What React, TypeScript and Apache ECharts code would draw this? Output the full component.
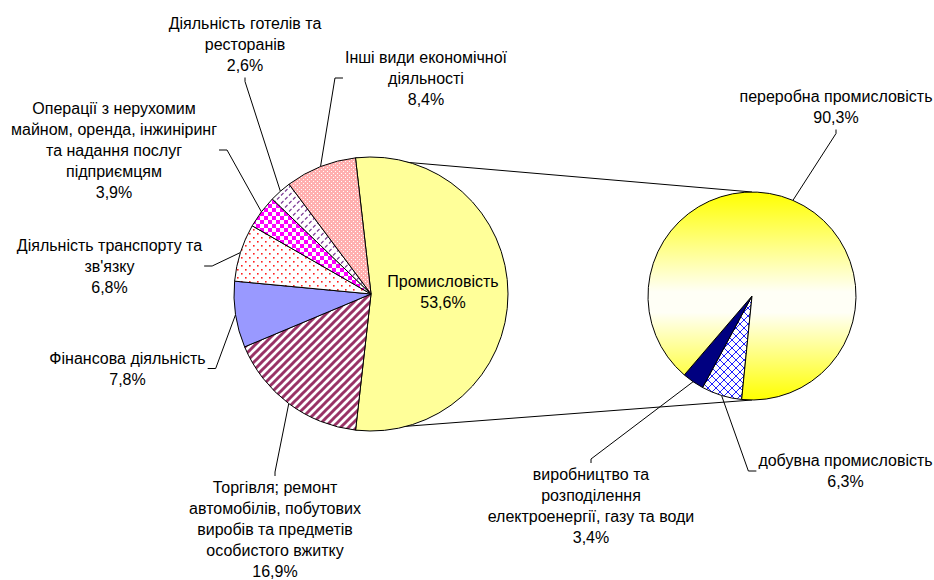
import React, { useEffect, useRef } from "react";
import * as echarts from "echarts";

// ---------- data ----------
const leftNames = [
  "Промисловість",
  "Торгівля; ремонт\nавтомобілів, побутових\nвиробів та предметів\nособистого вжитку",
  "Фінансова діяльність",
  "Діяльність транспорту та\nзв'язку",
  "Операції з нерухомим\nмайном, оренда, інжиніринг\nта надання послуг\nпідприємцям",
  "Діяльність готелів та\nресторанів",
  "Інші види економічної\nдіяльності",
];
const leftValues = [53.6, 16.9, 7.8, 6.8, 3.9, 2.6, 8.4];

const rightNames = [
  "добувна промисловість",
  "виробництво та\nрозподілення\nелектроенергії, газу та води",
  "переробна промисловість",
];
const rightValues = [6.3, 3.4, 90.3];

// ---------- layout / style ----------
const LEFT_CENTER = [371, 294];
const LEFT_R = 137;
const LEFT_START = 96.5;
const RIGHT_CENTER = [752, 296];
const RIGHT_R = 104;
const RIGHT_START = 264.3;

const FONT_SIZE = 16;
const LINE_H = 21;
const FONT_FAMILY = '"Liberation Sans", Arial, sans-serif';

// label block centre and the side the leader line attaches to
const leftLabelPos: [number, number, string][] = [
  [443, 292, "none"],
  [275, 529.5, "top"],
  [127.5, 368.5, "right"],
  [109.5, 266, "right"],
  [114, 150, "right"],
  [245, 44, "bottom"],
  [426, 78, "left"],
];
const rightLabelPos: [number, number, string][] = [
  [845.5, 471, "left"],
  [591, 506, "top"],
  [836, 106.5, "bottom"],
];

function fmtPct(v: number) {
  return v.toFixed(1).replace(".", ",") + "%";
}

function tile(w: number, h: number, draw: (ctx: CanvasRenderingContext2D) => void) {
  const c = document.createElement("canvas");
  c.width = w;
  c.height = h;
  const ctx = c.getContext("2d") as CanvasRenderingContext2D;
  draw(ctx);
  return { image: c, repeat: "repeat", imageWidth: w, imageHeight: h } as any;
}

function makePatterns() {
  const stripes = tile(8, 8, (ctx) => {
    ctx.fillStyle = "#fff";
    ctx.fillRect(0, 0, 8, 8);
    ctx.strokeStyle = "#993366";
    ctx.lineWidth = 3;
    for (const c of [0, 8, 16]) {
      ctx.beginPath();
      ctx.moveTo(c + 2, -2);
      ctx.lineTo(-2, c + 2);
      ctx.stroke();
    }
  });
  const redDots = tile(8, 8, (ctx) => {
    ctx.fillStyle = "#fff";
    ctx.fillRect(0, 0, 8, 8);
    ctx.fillStyle = "#FF2020";
    ctx.fillRect(1, 1, 1.6, 1.6);
    ctx.fillRect(5, 5, 1.6, 1.6);
  });
  const checker = tile(8, 8, (ctx) => {
    ctx.fillStyle = "#fff";
    ctx.fillRect(0, 0, 8, 8);
    ctx.fillStyle = "#FF00FF";
    ctx.fillRect(0, 0, 4, 4);
    ctx.fillRect(4, 4, 4, 4);
  });
  const dashes = tile(8, 8, (ctx) => {
    ctx.fillStyle = "#fff";
    ctx.fillRect(0, 0, 8, 8);
    ctx.strokeStyle = "#7F3F98";
    ctx.lineWidth = 1.2;
    ctx.beginPath();
    ctx.moveTo(1, 3.5);
    ctx.lineTo(3.5, 1);
    ctx.moveTo(5, 7.5);
    ctx.lineTo(7.5, 5);
    ctx.stroke();
  });
  const pink = tile(4, 4, (ctx) => {
    ctx.fillStyle = "#FFAFAF";
    ctx.fillRect(0, 0, 4, 4);
    ctx.fillStyle = "#fff";
    ctx.fillRect(1, 1, 1, 1);
    ctx.fillRect(3, 3, 1, 1);
  });
  const lattice = tile(8, 8, (ctx) => {
    ctx.fillStyle = "#fff";
    ctx.fillRect(0, 0, 8, 8);
    ctx.strokeStyle = "#2020FF";
    ctx.lineWidth = 1;
    ctx.beginPath();
    ctx.moveTo(0, 0);
    ctx.lineTo(8, 8);
    ctx.moveTo(8, 0);
    ctx.lineTo(0, 8);
    ctx.stroke();
  });
  return { stripes, redDots, checker, dashes, pink, lattice };
}

let measureCtx: CanvasRenderingContext2D | null = null;
function textWidth(s: string) {
  if (!measureCtx) {
    measureCtx = document.createElement("canvas").getContext("2d");
  }
  const ctx = measureCtx as CanvasRenderingContext2D;
  ctx.font = `${FONT_SIZE}px ${FONT_FAMILY}`;
  return ctx.measureText(s).width;
}

function makeLayout(names: string[], values: number[], pos: [number, number, string][], center: number[], r: number, start: number) {
  const total = values.reduce((a, b) => a + b, 0);
  return (params: any) => {
    const i = params.dataIndex;
    const [cx, cy, side] = pos[i];
    const lines = (names[i] + "\n" + fmtPct(values[i])).split("\n");
    const w = Math.max(...lines.map(textWidth));
    const h = lines.length * LINE_H;
    const left = cx - w / 2;
    const right = cx + w / 2;
    const top = cy - h / 2;
    const bottom = cy + h / 2;
    let anchor: number[];
    if (params.labelLinePoints && params.labelLinePoints[0]) {
      anchor = params.labelLinePoints[0];
    } else {
      let acc = 0;
      for (let k = 0; k < i; k++) acc += values[k];
      const mid = ((start - ((acc + values[i] / 2) / total) * 360) * Math.PI) / 180;
      anchor = [center[0] + r * Math.cos(mid), center[1] - r * Math.sin(mid)];
    }
    let p1: number[] = [cx, cy];
    let p2: number[] = [cx, cy];
    if (side === "left") {
      p2 = [left - 2, cy];
      p1 = [left - 10, cy];
    } else if (side === "right") {
      p2 = [right + 2, cy];
      p1 = [right + 10, cy];
    } else if (side === "top") {
      p2 = [cx, top - 1];
      p1 = [cx, top - 5];
    } else if (side === "bottom") {
      p2 = [cx, bottom + 2];
      p1 = [cx, bottom + 6];
    }
    const out: any = { x: cx, y: cy, align: "center", verticalAlign: "middle" };
    if (side !== "none") out.labelLinePoints = [anchor, p1, p2];
    return out;
  };
}

export default function App() {
  const ref = useRef<HTMLDivElement>(null);
  useEffect(() => {
    if (!ref.current) return;
    const chart = echarts.init(ref.current, undefined, { renderer: "svg" });
    const P = makePatterns();

    const leftColors: any[] = ["#FFFF99", P.stripes, "#9999FF", P.redDots, P.checker, P.dashes, P.pink];
    const rightColors: any[] = [
      P.lattice,
      "#000080",
      {
        type: "linear",
        x: 0,
        y: 0,
        x2: 0,
        y2: 1,
        colorStops: [
          { offset: 0, color: "#FFFF00" },
          { offset: 0.48, color: "#FFFFF6" },
          { offset: 0.58, color: "#FFFFF6" },
          { offset: 1, color: "#FFFF00" },
        ],
      },
    ];

    const labelBase = {
      show: true,
      color: "#000",
      fontSize: FONT_SIZE,
      lineHeight: LINE_H,
      fontFamily: FONT_FAMILY,
      overflow: "none",
      formatter: (p: any) => p.name + "\n" + fmtPct(p.value),
    };
    const lineBase = {
      show: true,
      length: 10,
      length2: 10,
      lineStyle: { color: "#000", width: 1 },
    };

    const leftEndDeg = LEFT_START - (leftValues[0] / leftValues.reduce((a, b) => a + b, 0)) * 360;
    const pt = (c: number[], r: number, deg: number) => [
      c[0] + r * Math.cos((deg * Math.PI) / 180),
      c[1] - r * Math.sin((deg * Math.PI) / 180),
    ];
    const topA = pt(LEFT_CENTER, LEFT_R, LEFT_START);
    const botA = pt(LEFT_CENTER, LEFT_R, leftEndDeg);
    const topB = pt(RIGHT_CENTER, RIGHT_R, 90);
    const botB = pt(RIGHT_CENTER, RIGHT_R, -90);

    chart.setOption({
      animation: false,
      backgroundColor: "#fff",
      graphic: [
        {
          type: "line",
          z: 0,
          shape: { x1: topA[0], y1: topA[1], x2: topB[0], y2: topB[1] },
          style: { stroke: "#000", lineWidth: 1 },
        },
        {
          type: "line",
          z: 0,
          shape: { x1: botA[0], y1: botA[1], x2: botB[0], y2: botB[1] },
          style: { stroke: "#000", lineWidth: 1 },
        },
      ],
      series: [
        {
          type: "pie",
          z: 2,
          center: LEFT_CENTER,
          radius: LEFT_R,
          startAngle: LEFT_START,
          clockwise: true,
          avoidLabelOverlap: false,
          silent: true,
          label: labelBase,
          labelLine: lineBase,
          itemStyle: { borderColor: "#000", borderWidth: 1 },
          labelLayout: makeLayout(leftNames, leftValues, leftLabelPos, LEFT_CENTER, LEFT_R, LEFT_START),
          data: leftNames.map((n, i) => ({
            name: n,
            value: leftValues[i],
            itemStyle: { color: leftColors[i] },
            labelLine: i === 0 ? { show: false } : undefined,
          })),
        },
        {
          type: "pie",
          z: 2,
          center: RIGHT_CENTER,
          radius: RIGHT_R,
          startAngle: RIGHT_START,
          clockwise: true,
          avoidLabelOverlap: false,
          silent: true,
          label: labelBase,
          labelLine: lineBase,
          itemStyle: { borderColor: "#000", borderWidth: 1 },
          labelLayout: makeLayout(rightNames, rightValues, rightLabelPos, RIGHT_CENTER, RIGHT_R, RIGHT_START),
          data: rightNames.map((n, i) => ({
            name: n,
            value: rightValues[i],
            itemStyle: { color: rightColors[i] },
          })),
        },
      ],
    });
    return () => chart.dispose();
  }, []);
  return (
    <div
      ref={ref}
      style={{ position: "fixed", left: 0, top: 0, width: 934, height: 580, background: "#fff" }}
    />
  );
}
